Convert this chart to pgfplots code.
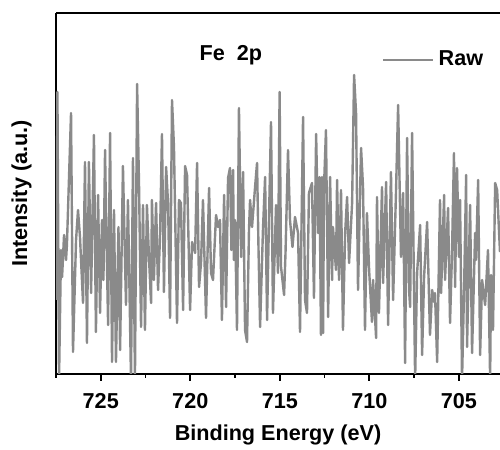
\documentclass[border=0pt]{standalone}
\usepackage{fontspec}
\setmainfont{Liberation Sans}
\usepackage{pgfplots}
\pgfplotsset{compat=1.18}
\definecolor{rawgray}{RGB}{138,138,138}
\newcommand{\lblfont}{\fontsize{10.8}{12}\selectfont\bfseries}
\begin{document}
\begin{tikzpicture}
\begin{axis}[
  scale only axis,
  width=222pt, height=180.5pt,
  x dir=reverse,
  xmin=702.7, xmax=727.5,
  ymin=0, ymax=361,
  axis x line*=box, axis y line*=left,
  axis line style={line width=1pt, black},
  xtick={705,710,715,720,725},
  minor xtick={702.5,707.5,712.5,717.5,722.5,727.5},
  xtick pos=bottom,
  ytick=\empty,
  tick align=outside,
  major tick length=3.5pt, minor tick length=2pt,
  every tick/.style={line width=0.9pt, black},
  /pgf/number format/assume math mode=true,
  xticklabel style={font=\lblfont, inner sep=0pt, yshift=-6pt},
  xlabel={Binding Energy (eV)},
  ylabel={Intensity (a.u.)},
  xlabel style={font=\lblfont, at={(axis description cs:0.5,-0.14)}, anchor=north, inner sep=0pt},
  ylabel style={font=\lblfont, at={(axis description cs:-0.054,0.5)}, anchor=south, inner sep=0pt},
  legend style={at={(axis description cs:0.734,0.870)}, anchor=west, draw=none, fill=none, inner sep=0pt,
    font=\lblfont, nodes={inner sep=2pt}},
  legend image code/.code={\draw[rawgray, line width=1.2pt] (0pt,0pt) -- (25pt,0pt);},
]
\addplot[rawgray, line width=1.2pt, line join=round] coordinates {
(727.48,74) (727.42,282) (727.33,-6) (727.22,124) (727.16,97) (727.05,139) (726.94,114) (726.89,129)
(726.66,261) (726.55,22) (726.38,134) (726.27,164) (726.16,137) (725.99,71) (725.88,212) (725.77,31)
(725.66,212) (725.54,81) (725.38,239) (725.27,42) (725.15,179) (725.04,61) (724.93,154) (724.85,94)
(724.76,224) (724.71,167) (724.59,49) (724.48,241) (724.37,12) (724.26,164) (724.15,12) (724.01,147)
(723.92,24) (723.76,208) (723.59,69) (723.48,174) (723.31,-6) (723.20,216) (723.09,-6) (722.97,290)
(722.86,187) (722.75,47) (722.64,169) (722.53,44) (722.42,169) (722.30,114) (722.19,71) (722.14,174)
(722.03,94) (721.91,171) (721.80,84) (721.69,137) (721.58,240) (721.47,82) (721.35,207) (721.24,171)
(721.13,56) (721.02,274) (720.91,227) (720.74,51) (720.63,174) (720.52,171) (720.40,64) (720.29,208)
(720.18,199) (720.01,64) (719.90,132) (719.73,121) (719.62,211) (719.51,87) (719.40,111) (719.29,174)
(719.12,56) (718.95,186) (718.84,101) (718.73,94) (718.56,159) (718.45,147) (718.34,154) (718.23,54)
(718.11,179) (718.00,67) (717.89,196) (717.78,206) (717.70,124) (717.61,204) (717.56,114) (717.50,154)
(717.39,44) (717.28,266) (717.16,117) (717.05,202) (716.94,44) (716.83,32) (716.72,144) (716.66,174)
(716.55,147) (716.38,187) (716.27,211) (716.19,127) (716.10,47) (715.94,144) (715.82,197) (715.71,54)
(715.60,157) (715.49,252) (715.38,61) (715.21,169) (715.10,101) (715.01,282) (714.93,107) (714.76,79)
(714.68,121) (714.54,224) (714.43,154) (714.29,127) (714.15,157) (713.98,141) (713.87,42) (713.70,257)
(713.59,74) (713.48,61) (713.37,181) (713.20,191) (713.09,76) (712.97,240) (712.86,141) (712.78,197)
(712.70,39) (712.64,197) (712.58,41) (712.53,187) (712.42,244) (712.30,57) (712.19,197) (712.08,94)
(712.03,147) (711.86,104) (711.80,194) (711.69,94) (711.58,184) (711.47,44) (711.35,141) (711.24,177)
(711.13,111) (710.96,171) (710.85,299) (710.74,261) (710.63,84) (710.46,226) (710.35,187) (710.24,44)
(710.13,161) (710.01,104) (709.85,52) (709.79,94) (709.62,36) (709.57,177) (709.46,61) (709.29,187)
(709.23,91) (709.06,192) (708.95,49) (708.79,202) (708.67,74) (708.51,181) (708.39,269) (708.23,117)
(708.11,181) (708.00,11) (707.89,236) (707.78,84) (707.72,67) (707.61,241) (707.44,-6) (707.33,101)
(707.16,149) (707.05,19) (706.94,97) (706.77,152) (706.61,39) (706.49,84) (706.38,72) (706.33,81)
(706.21,12) (706.05,174) (705.99,81) (705.82,179) (705.77,94) (705.60,166) (705.49,51) (705.38,121)
(705.27,221) (705.21,87) (705.10,206) (704.99,117) (704.93,174) (704.82,-6) (704.71,81) (704.59,199)
(704.54,27) (704.37,169) (704.26,21) (704.09,141) (704.04,114) (703.92,194) (703.81,19) (703.70,94)
(703.53,69) (703.37,124) (703.25,-6) (703.20,99) (703.09,44) (702.97,191) (702.86,184) (702.70,122)
};
\addlegendentry{Raw}
\node[font=\lblfont, inner sep=0pt] at (axis description cs:0.394,0.884) {Fe\ \ 2p};
\end{axis}
\pgfresetboundingbox
\path (current axis.south west) ++(-28pt,-38pt) rectangle ++(250pt,225pt);
\end{tikzpicture}
\end{document}
